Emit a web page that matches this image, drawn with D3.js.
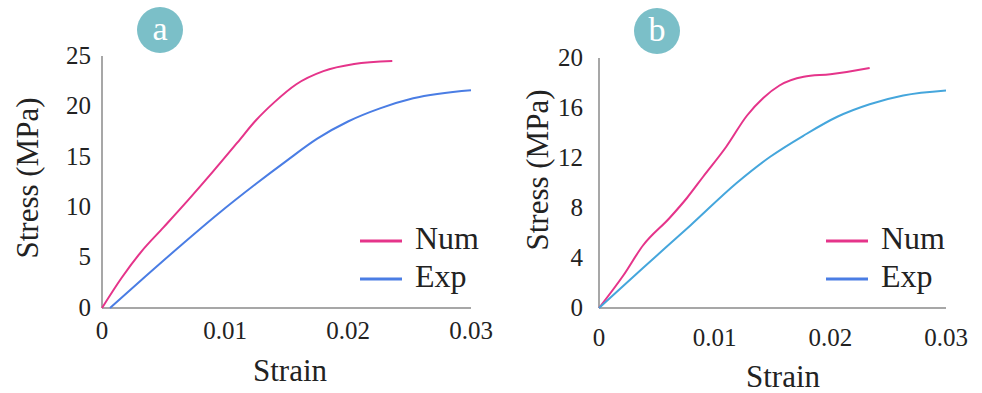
<!DOCTYPE html>
<html>
<head>
<meta charset="utf-8">
<script src="https://cdn.jsdelivr.net/npm/d3@7"></script>
<style>
	body { margin: 0; background: #fff; }
</style>
</head>
<body>
<div id="chart"></div>
<script>
// Panel a
const numA = [
	[0, 0], [0.0016, 3.0], [0.0032, 5.6], [0.005, 8.0], [0.007, 10.7], [0.009, 13.5],
	[0.011, 16.4], [0.0125, 18.6], [0.014, 20.4], [0.0158, 22.2], [0.018, 23.5],
	[0.0205, 24.2], [0.0236, 24.5]
];
const expA = [
	[0.00065, 0], [0.0035, 3.1], [0.0065, 6.3], [0.0095, 9.4], [0.0125, 12.3], [0.015, 14.6],
	[0.0175, 16.8], [0.02, 18.5], [0.0226, 19.8], [0.0253, 20.8], [0.0300, 21.6]
];
const yTicksA = [0, 5, 10, 15, 20, 25];

// Panel b
const numB = [
	[0, 0], [0.0021, 2.6], [0.0038, 5.0], [0.0061, 7.2], [0.0076, 8.8], [0.0090, 10.5],
	[0.0110, 12.9], [0.0128, 15.4], [0.0142, 16.8], [0.0156, 17.8], [0.0177, 18.5],
	[0.0200, 18.7], [0.0234, 19.2]
];
const expB = [
	[0, 0], [0.0038, 3.2], [0.0079, 6.6], [0.0119, 10.0], [0.0148, 12.1], [0.0177, 13.8],
	[0.0206, 15.3], [0.0234, 16.3], [0.0263, 17.0], [0.0300, 17.4]
];
const yTicksB = [0, 4, 8, 12, 16, 20];

const xTicks = [0, 0.01, 0.02, 0.03];
const seriesNames = ["Num", "Exp"];

const serif = "Liberation Serif, DejaVu Serif, serif";

const svg = d3.select("#chart")
	.append("svg")
	.attr("width", 982)
	.attr("height", 393);

function drawPanel(p) {
	const x = d3.scaleLinear().domain([0, 0.03]).range([p.left, p.right]);
	const y = d3.scaleLinear().domain([0, p.yMax]).range([p.bottom, p.top]);
	const g = svg.append("g")
		.attr("font-family", serif)
		.attr("fill", "#222");

	// axes
	g.append("line")
		.attr("x1", x(0)).attr("x2", x(0))
		.attr("y1", y(0)).attr("y2", y(p.yMax))
		.attr("stroke", "#8a8a8a").attr("stroke-width", 1.5);
	g.append("line")
		.attr("x1", x(0)).attr("x2", x(0.03))
		.attr("y1", y(0)).attr("y2", y(0))
		.attr("stroke", "#8a8a8a").attr("stroke-width", 1.5);

	// tick labels
	g.selectAll(".ytick")
		.data(p.yTicks)
		.enter()
		.append("text")
		.attr("font-size", 25)
		.attr("x", x(0) - p.yLabelGap)
		.attr("y", d => y(d) - 1)
		.attr("dy", "0.35em")
		.attr("text-anchor", "end")
		.text(d => d);
	g.selectAll(".xtick")
		.data(xTicks)
		.enter()
		.append("text")
		.attr("font-size", 25)
		.attr("x", d => x(d))
		.attr("y", p.xLabelY)
		.attr("text-anchor", "middle")
		.text(d => d);

	// titles
	g.append("text")
		.attr("font-size", 31)
		.attr("x", p.xTitle[0])
		.attr("y", p.xTitle[1])
		.attr("text-anchor", "middle")
		.text("Strain");
	g.append("text")
		.attr("font-size", 31)
		.attr("transform", "translate(" + p.yTitle[0] + "," + p.yTitle[1] + ") rotate(-90)")
		.attr("text-anchor", "middle")
		.text("Stress (MPa)");

	// curves
	const line = d3.line()
		.x(d => x(d[0]))
		.y(d => y(d[1]))
		.curve(d3.curveMonotoneX);
	[p.num, p.exp].forEach((data, i) => {
		g.append("path")
			.datum(data)
			.attr("d", line)
			.attr("fill", "none")
			.attr("stroke", p.colors[i])
			.attr("stroke-width", 2);
	});

	// legend
	const legend = g.append("g")
		.attr("transform", "translate(" + p.legend[0] + "," + p.legend[1] + ")");
	const item = legend.selectAll("g")
		.data(seriesNames)
		.enter()
		.append("g")
		.attr("transform", (d, i) => "translate(0," + (i * 38) + ")");
	item.append("line")
		.attr("x1", 0).attr("x2", 42)
		.attr("y1", 0).attr("y2", 0)
		.attr("stroke", (d, i) => p.legendColors[i])
		.attr("stroke-width", 3);
	item.append("text")
		.attr("font-size", 32)
		.attr("x", 55)
		.attr("y", 8)
		.text(d => d);

	// badge
	g.append("circle")
		.attr("cx", p.badge[0]).attr("cy", p.badge[1])
		.attr("r", 23)
		.attr("fill", "#7bbfc8");
	g.append("text")
		.attr("font-size", 34)
		.attr("fill", "#fff")
		.attr("x", p.badge[0]).attr("y", p.badge[1] + 10)
		.attr("text-anchor", "middle")
		.text(p.letter);
}

drawPanel({
	letter: "a", num: numA, exp: expA, yTicks: yTicksA, yMax: 25,
	left: 102, right: 471, top: 56, bottom: 308,
	yLabelGap: 11, xLabelY: 339,
	xTitle: [290, 381], yTitle: [38, 178],
	colors: ["#e5348a", "#4a7de4"], legendColors: ["#e5348a", "#4a7de4"],
	legend: [360, 241], badge: [160, 30]
});
drawPanel({
	letter: "b", num: numB, exp: expB, yTicks: yTicksB, yMax: 20,
	left: 599, right: 946, top: 58, bottom: 308,
	yLabelGap: 16, xLabelY: 346,
	xTitle: [783, 387], yTitle: [548, 170],
	colors: ["#e5348a", "#45a6dc"], legendColors: ["#e5348a", "#4a7de4"],
	legend: [826, 241], badge: [657, 31]
});
</script>
</body>
</html>
